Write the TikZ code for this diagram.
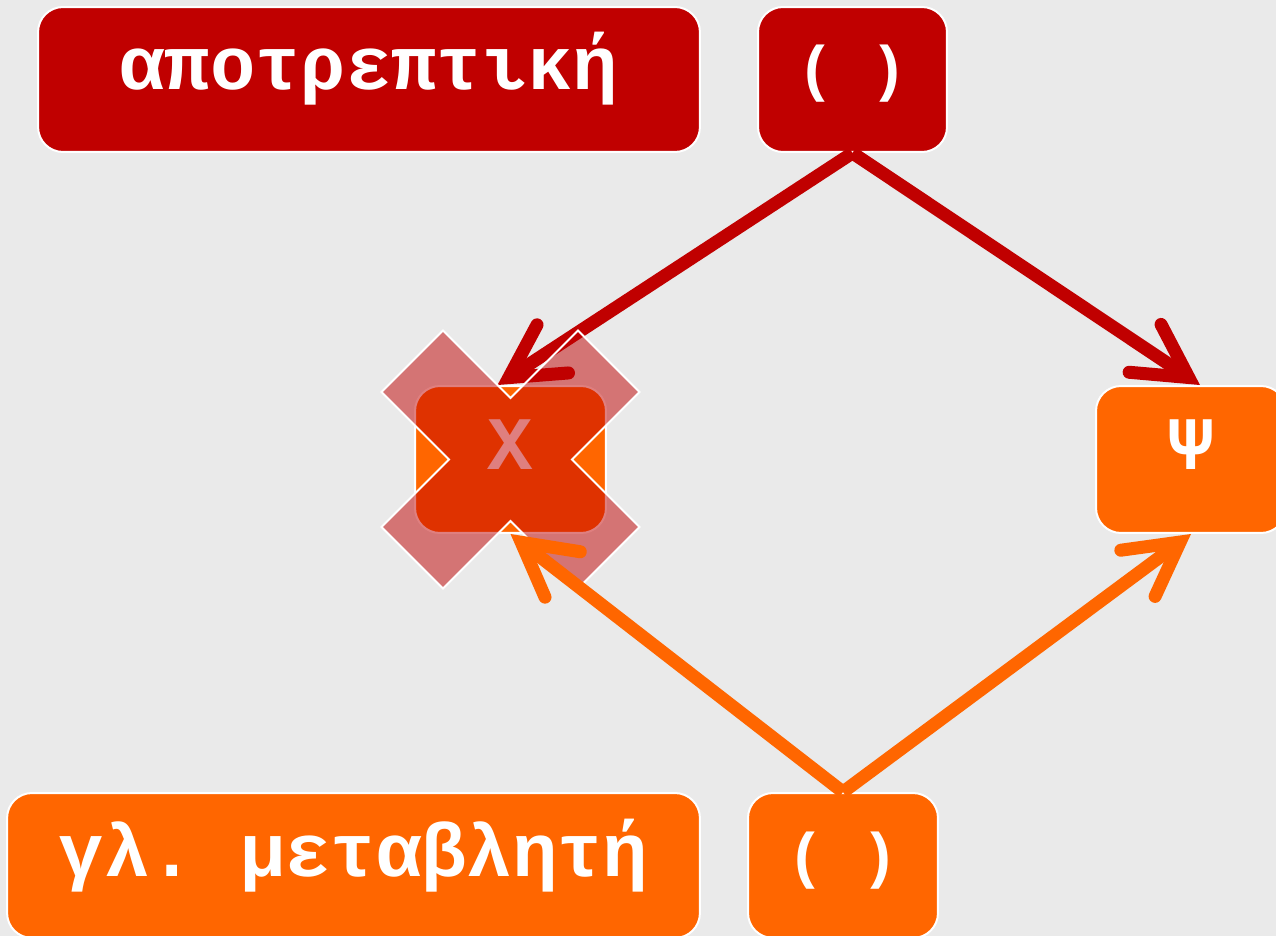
\documentclass[tikz,border=0pt]{standalone}
\usepackage{fontspec}
\setmonofont{Liberation Mono}
\usepackage{xcolor}
\usetikzlibrary{arrows.meta, positioning}

\definecolor{darkred}{HTML}{C00000}
\definecolor{tangerine}{HTML}{FF6600}
\definecolor{bggray}{HTML}{EAEAEA}

\begin{document}
\begin{tikzpicture}[
    x=0.02cm, y=-0.02cm,
    font=\ttfamily\bfseries\fontsize{43}{50}\selectfont,
    box/.style={
      draw=white,
      line width=0.04cm,
      rounded corners=0.5cm,
      text=white,
      inner sep=0pt,
      minimum height=2.9cm,
      text height=0.9cm,
      text depth=0.48cm
    },
    redbox/.style={box, fill=darkred},
    orangebox/.style={box, fill=tangerine},
    parens/.style={font=\ttfamily\bfseries\fontsize{35}{42}\selectfont},
    arrow/.style={
      -{Straight Barb[length=1.05cm, width=1.15cm, line cap=round, line join=miter]},
      line width=0.26cm
    },
    crossmark/.style={fill=darkred, fill opacity=0.5, draw=white, line width=0.04cm}
]

\useasboundingbox (0,0) rectangle (1276,936);
\fill[bggray] (0,0) rectangle (1276,936);

\node[redbox, minimum width=13.24cm] (kind) at (369,79.5) {αποτρεπτική};
\node[redbox, parens, minimum width=3.78cm] (kindval) at (852.5,79.5) {( )};
\node[orangebox, minimum width=3.82cm, minimum height=2.94cm] (chi) at (510.5,459.5) {Χ};
\node[orangebox, minimum width=3.8cm, minimum height=2.94cm] (psi) at (1191,459.5) {Ψ};
\node[orangebox, minimum width=13.86cm] (var) at (353.5,865.5) {γλ. μεταβλητή};
\node[orangebox, parens, minimum width=3.8cm] (varval) at (843,865.5) {( )};

\draw[arrow, darkred] (kindval.south) -- ([xshift=-0.26cm]chi.north);
\draw[arrow, darkred] (kindval.south) -- ([xshift=0.18cm]psi.north);

% crossed out
\begin{scope}[shift={(chi.center)}, rotate=45]
  \filldraw[crossmark] (-43.5,139) -- (43.5,139) -- (43.5,43.5) -- (139,43.5)
    -- (139,-43.5) -- (43.5,-43.5) -- (43.5,-139) -- (-43.5,-139)
    -- (-43.5,-43.5) -- (-139,-43.5) -- (-139,43.5) -- (-43.5,43.5) -- cycle;
\end{scope}

\draw[arrow, tangerine] (varval.north) -- (chi.south);
\draw[arrow, tangerine] (varval.north) -- (psi.south);
\end{tikzpicture}
\end{document}
